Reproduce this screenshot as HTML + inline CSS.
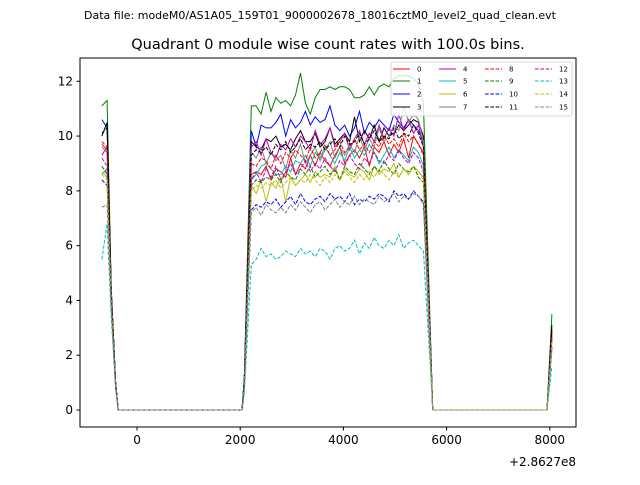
<!DOCTYPE html>
<html><head><meta charset="utf-8">
<style>
body{margin:0;background:#fff;}
svg text{font-family:"DejaVu Sans","Liberation Sans",sans-serif;}
</style></head>
<body>
<svg id="chart" width="640" height="480" viewBox="0 0 640 480" xmlns="http://www.w3.org/2000/svg">
<rect x="0" y="0" width="640" height="480" fill="#fff"/>
<text x="320" y="19" font-size="11" text-anchor="middle">Data file: modeM0/AS1A05_159T01_9000002678_18016cztM0_level2_quad_clean.evt</text>
<text x="328" y="49" font-size="14.5" text-anchor="middle">Quadrant 0 module wise count rates with 100.0s bins.</text>
<g id="series"></g>
<rect x="80" y="58" width="496" height="369" fill="none" stroke="#000" stroke-width="1"/>
<g id="axes"></g>
<text x="576" y="466" font-size="12" text-anchor="end">+2.8627e8</text>
<g id="legend"></g>
</svg>
<script>
const xTicks=[0,2000,4000,6000,8000];
const yTicks=[0,2,4,6,8,10,12];
const leftT=[-680,-580,-500,-415];
const gap1T=[-365,2035];
const riseT=2080;
const highT=[2215,5550];
const fallT=5715;
const gap2T=[5730,7945];
const endT=8040;
const colors=['#ff0000','#008000','#0000ff','#000000','#bf00bf','#00bfbf','#bfbf00','#808080'];
const labels=['0','1','2','3','4','5','6','7','8','9','10','11','12','13','14','15'];
const left=[[9.7,9.5,4.3,1.0],[11.1,11.3,4.5,1.0],[10.6,10.3,4.4,1.0],[10.0,10.5,4.4,1.0],[9.3,9.6,4.2,0.9],[8.6,8.8,4.0,0.9],[8.7,8.5,4.0,0.9],[9.6,9.4,4.2,0.9],[9.8,9.6,4.2,0.9],[8.9,8.6,4.0,0.9],[8.4,8.2,3.9,0.9],[10.1,10.3,4.3,1.0],[9.2,8.9,4.1,0.9],[5.5,6.8,3.4,0.8],[8.6,8.4,4.0,0.9],[7.4,7.5,3.7,0.8]];
const rise=[1.0,1.2,1.1,1.1,1.0,1.0,0.9,1.0,1.0,0.9,0.8,1.1,0.9,0.6,0.9,0.8];
const fall=[0.9,1.0,0.9,0.9,0.9,0.8,0.8,0.9,0.9,0.8,0.8,0.9,0.8,0.6,0.8,0.7];
const endV=[2.8,3.5,2.9,3.1,2.7,2.6,2.5,2.7,2.8,2.6,2.3,3.0,2.6,1.6,2.5,2.2];
const high=[
[8.6,8.7,8.6,8.9,8.4,8.8,8.7,8.5,9.2,8.6,9.0,8.8,9.3,8.9,9.4,9.1,8.9,9.3,9.6,9.0,9.3,9.5,9.2,9.6,8.9,9.6,9.4,9.8,9.3,9.7,9.4,9.9,9.2,10.0,9.7,9.4],
[11.1,11.1,10.8,11.6,10.9,11.4,11.2,11.3,11.1,11.5,12.3,11.2,10.8,11.4,11.7,11.7,11.8,11.7,11.8,11.8,11.7,11.4,11.4,11.5,11.8,11.5,11.8,11.9,11.8,12.1,12.2,12.2,12.2,12.1,11.9,11.2],
[10.2,9.6,10.4,10.3,10.3,10.5,10.8,10.0,10.6,10.3,10.5,10.9,10.4,10.7,10.5,10.6,11.1,10.4,10.2,10.4,10.0,10.3,10.9,10.1,10.5,10.3,10.6,10.4,10.2,10.8,10.5,10.3,10.6,10.4,10.2,9.8],
[9.8,9.6,9.5,9.9,9.8,10.0,9.6,9.7,9.5,9.9,10.2,9.8,9.8,10.1,9.6,9.8,10.3,9.7,9.9,10.1,9.8,10.7,9.8,10.2,9.9,10.4,9.8,10.3,10.0,10.1,10.4,10.2,10.4,10.6,10.5,10.0],
[9.6,9.8,9.3,9.9,9.4,9.2,9.7,9.5,9.9,9.6,10.0,9.8,9.5,10.2,9.7,9.9,10.3,9.6,9.8,10.1,9.5,9.9,10.2,9.7,10.1,9.8,10.4,9.9,10.3,10.0,10.8,10.2,10.6,10.1,10.4,9.6],
[8.4,8.6,8.9,9.0,8.8,8.6,8.6,8.9,8.7,9.1,9.0,9.3,8.9,9.4,9.2,9.6,9.3,9.0,9.4,9.1,9.6,9.2,9.5,9.3,9.7,9.4,9.0,9.3,9.6,9.2,9.5,9.3,9.1,9.6,9.4,8.9],
[8.2,7.9,8.4,7.6,8.3,8.1,8.5,7.6,8.5,8.2,8.4,8.6,8.3,8.7,8.5,8.6,8.5,8.9,8.4,8.8,8.6,8.5,8.8,8.7,8.4,8.9,8.6,8.8,8.7,9.0,8.5,8.8,8.6,8.9,8.7,8.5],
[9.4,9.2,9.6,9.0,9.4,9.1,9.3,8.8,9.5,9.2,9.7,9.0,9.3,9.6,9.1,9.5,9.8,9.2,9.6,9.3,9.7,9.4,10.0,9.5,9.9,9.6,10.3,9.8,10.0,10.4,10.2,11.1,10.5,10.8,10.6,9.8],
[9.0,8.9,9.2,9.1,8.8,9.3,9.0,9.4,9.2,9.5,9.3,9.1,9.6,9.2,9.4,9.7,9.3,9.5,9.8,9.4,9.6,9.9,9.5,9.7,9.4,9.8,9.6,10.0,9.7,9.9,9.6,10.1,9.8,10.0,9.7,9.3],
[8.2,8.4,8.3,8.5,8.4,8.6,8.3,8.7,8.5,8.4,8.8,8.6,8.9,8.5,8.7,8.9,8.6,8.8,8.4,8.9,8.7,8.6,9.0,8.8,8.6,8.9,8.7,9.1,8.8,8.6,9.0,8.8,8.7,8.9,8.5,8.3],
[7.3,7.5,7.4,7.6,7.5,7.7,7.4,7.6,7.8,7.5,7.9,7.6,7.5,7.7,7.8,7.6,7.9,7.7,7.8,7.6,7.9,7.5,7.7,7.6,7.8,7.7,7.9,7.8,7.6,8.0,7.8,7.9,7.7,8.0,7.8,7.6],
[9.3,9.5,9.4,9.6,9.3,9.7,9.5,9.8,9.4,9.6,9.9,9.5,9.7,9.6,9.8,9.5,9.7,9.9,9.6,10.0,9.7,9.8,10.1,9.7,9.9,10.2,9.8,10.0,9.9,10.3,9.9,10.1,10.0,10.4,10.1,9.6],
[8.4,8.7,8.3,8.8,8.5,8.9,8.4,8.7,9.0,8.6,8.8,9.1,8.7,9.0,8.8,9.2,8.9,8.7,9.1,8.9,9.3,9.0,8.8,9.2,9.0,9.4,9.1,9.0,9.3,9.1,9.5,9.2,9.0,9.4,9.2,8.7],
[5.3,5.5,5.9,5.6,5.7,5.5,5.6,5.8,5.7,5.6,5.9,5.7,5.8,5.6,5.9,5.8,5.5,5.9,6.0,5.8,5.9,6.2,5.7,6.1,5.9,6.3,6.0,5.9,6.2,6.0,6.4,5.9,6.1,6.2,6.0,5.8],
[8.0,8.2,8.1,8.3,8.2,8.4,8.1,8.3,8.5,8.2,8.4,8.3,8.6,8.4,8.2,8.5,8.3,8.6,8.4,8.7,8.5,8.3,8.6,8.4,8.7,8.5,8.8,8.6,8.4,8.7,8.5,8.8,8.6,8.9,8.7,8.4],
[7.2,7.4,7.1,7.5,7.3,7.2,7.4,7.2,7.5,7.3,7.6,7.4,7.2,7.5,7.6,7.3,7.5,7.7,7.4,7.6,7.5,7.8,7.5,7.7,7.6,7.5,7.8,7.6,7.7,7.9,7.6,7.8,7.7,7.9,7.8,7.5]
];
const X0=80,X1=576,Y0=58,Y1=427,xmin=-1105,xmax=8508,ymin=-0.62,ymax=12.85;
function sx(t){return X0+(t-xmin)/(xmax-xmin)*(X1-X0);}
function sy(v){return Y1-(v-ymin)/(ymax-ymin)*(Y1-Y0);}
const NS='http://www.w3.org/2000/svg';
function mk(tag,attrs,parent){const e=document.createElementNS(NS,tag);for(const k in attrs)e.setAttribute(k,attrs[k]);parent.appendChild(e);return e;}
const sg=document.getElementById('series');
for(let s=0;s<16;s++){
  const pts=[];
  leftT.forEach((t,i)=>pts.push([t,left[s][i]]));
  pts.push([gap1T[0],0],[gap1T[1],0]);
  pts.push([riseT,rise[s]]);
  const hs=(highT[1]-highT[0])/(high[s].length-1);
  high[s].forEach((v,i)=>pts.push([highT[0]+i*hs,v]));
  pts.push([fallT,fall[s]]);
  pts.push([gap2T[0],0],[gap2T[1],0]);
  pts.push([endT,endV[s]]);
  const str=pts.map(p=>sx(p[0]).toFixed(1)+','+sy(p[1]).toFixed(1)).join(' ');
  const attrs={points:str,fill:'none',stroke:colors[s%8],'stroke-width':1};
  if(s>=8)attrs['stroke-dasharray']='3.7,1.6';
  const pl=mk('polyline',attrs,sg);
  
  
}
const ax=document.getElementById('axes');
xTicks.forEach(t=>{const x=sx(t);
  const l=mk('line',{x1:x,x2:x,y1:Y1,y2:Y1+3.5,stroke:'#000'},ax);
  
  
  const tx=mk('text',{x:x,y:Y1+17,'font-size':12,'text-anchor':'middle'},ax);tx.textContent=t;
  
  
});
yTicks.forEach(v=>{const y=sy(v);
  const l=mk('line',{x1:X0-3.5,x2:X0,y1:y,y2:y,stroke:'#000'},ax);
  
  
  const tx=mk('text',{x:X0-7,y:y+4,'font-size':12,'text-anchor':'end'},ax);tx.textContent=v;
  
  
});
const lg=document.getElementById('legend');
const box=mk('rect',{x:391,y:62,width:181,height:54,rx:2,fill:'#fff','fill-opacity':0.8,stroke:'#ccc','stroke-width':0.8},lg);


const colX=[393,439,485,535],rowY=[69,81,94,107];
for(let s=0;s<16;s++){const c=Math.floor(s/4),r=s%4;
  const a={x1:colX[c],x2:colX[c]+17,y1:rowY[r],y2:rowY[r],stroke:colors[s%8],'stroke-width':1};
  if(s>=8)a['stroke-dasharray']='3.7,1.6';
  const l=mk('line',a,lg);
  
  
  const tx=mk('text',{x:colX[c]+24,y:rowY[r]+2.5,'font-size':7},lg);tx.textContent=labels[s];
  
  
}
</script>
</body></html>
